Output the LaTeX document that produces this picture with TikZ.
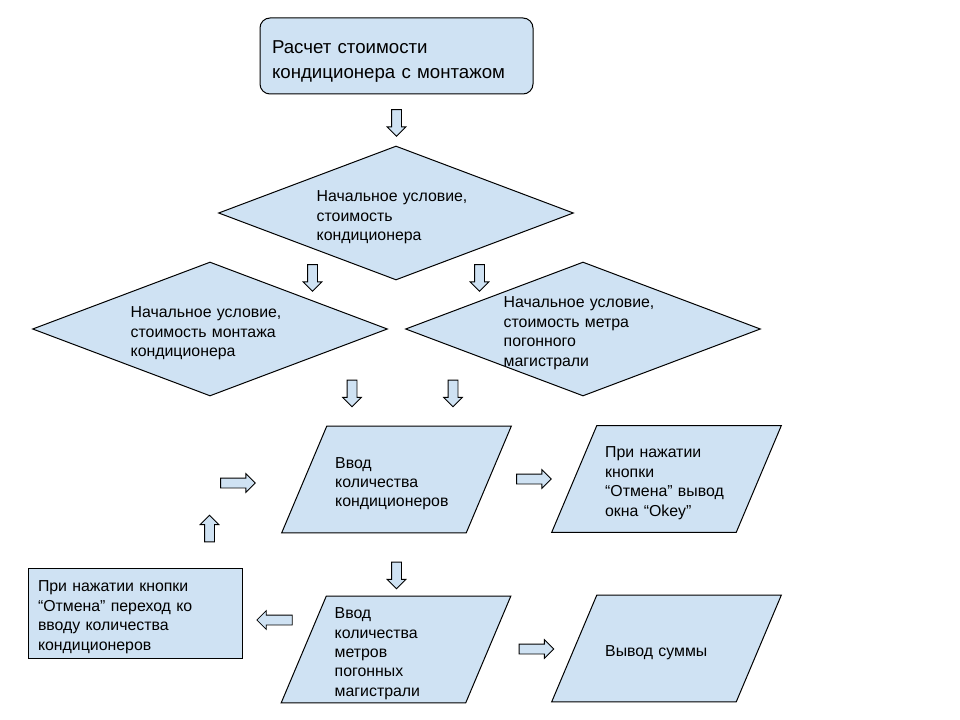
\documentclass[tikz,border=0pt]{standalone}
\usepackage{fontspec}
\setmainfont{Liberation Sans}
\usetikzlibrary{shapes.arrows,backgrounds}
\definecolor{boxblue}{HTML}{CFE2F3}
\begin{document}
\begin{tikzpicture}[x=0.75pt,y=-0.75pt,
  txt/.style={align=left,inner sep=0pt,font=\fontsize{11.9}{14.6}\selectfont,
    execute at begin node={\rule{0pt}{14.5pt}}},
  outline/.style={draw=black,fill=boxblue,line width=0.75pt},
  blk/.style={txt,outline},
  cond/.style={txt,minimum width=265.5pt,minimum height=99.75pt,text width=119pt},
  io/.style={txt,minimum width=138pt,minimum height=79.5pt,text width=92pt},
  barrow/.style={single arrow,draw=black,fill=boxblue,line width=0.6pt,inner sep=3.375pt,
    single arrow head extend=3.375pt,single arrow head indent=0pt,minimum height=20pt},
  down/.style={barrow,shape border rotate=270},
  up/.style={barrow,shape border rotate=90},
  left/.style={barrow,shape border rotate=180,minimum height=26.5pt},
  right/.style={barrow,minimum height=26pt}]
\useasboundingbox (0,0) rectangle (960,720);
\node[blk,rounded corners=7.5pt,minimum width=204.75pt,minimum height=57pt,text width=186.75pt,
  font=\fontsize{14}{18.75}\selectfont,execute at begin node={\rule{0pt}{17.7pt}}] (start) at (396.5,56)
  {Расчет стоимости\\кондиционера с монтажом};
\node[cond] (price) at (396,213) {Начальное условие,\\стоимость\\кондиционера};
\node[cond] (mount) at (210,329) {Начальное условие,\\стоимость монтажа\\кондиционера};
\node[cond] (pipe) at (583,329) {Начальное условие,\\стоимость метра\\погонного\\магистрали};
\node[io] (count) at (396.5,479.5) {Ввод\\количества\\кондиционеров};
\node[io] (meters) at (396,649.5) {Ввод\\количества\\метров\\погонных\\магистрали};
\node[io] (okey) at (666.5,479) {При нажатии\\кнопки\\“Отмена” вывод\\окна “Okey”};
\node[io] (sum) at (666.5,648.5) {Вывод суммы};
\node[blk,minimum width=160.5pt,minimum height=67.5pt,text width=145.5pt] (back) at (135,613)
  {При нажатии кнопки\\“Отмена” переход ко\\вводу количества\\кондиционеров};
\begin{scope}[on background layer]
\foreach \n in {price,mount,pipe}
  \draw[outline] (\n.west) -- (\n.north) -- (\n.east) -- (\n.south) -- cycle;
\foreach \n in {count,meters,okey,sum}
  \draw[outline] ([xshift=16.875pt]\n.north west) -- ([xshift=16.875pt]\n.north east)
    -- ([xshift=-16.875pt]\n.south east) -- ([xshift=-16.875pt]\n.south west) -- cycle;
\end{scope}
\node[down] (a0) at (396.5,120.5) {};
\node[down] (a1) at (312.5,275.5) {};
\node[down] (a2) at (479.5,275.5) {};
\node[down] (a3) at (352,391) {};
\node[down] (a4) at (453,391) {};
\node[right] (a5) at (235.5,483) {};
\node[up] (a6) at (209.5,531) {};
\node[right] (a7) at (531.5,479) {};
\node[down] (a8) at (396.5,573) {};
\node[left] (a9) at (277,620) {};
\node[right] (a10) at (534,649) {};
\end{tikzpicture}
\end{document}
